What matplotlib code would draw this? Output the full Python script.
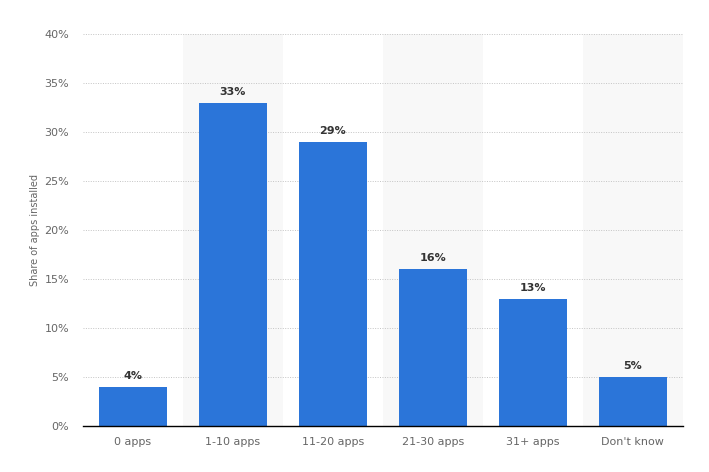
import numpy as np
import matplotlib.pyplot as plt

categories = ['0 apps', '1-10 apps', '11-20 apps', '21-30 apps', '31+ apps', "Don't know"]
values = [4, 33, 29, 16, 13, 5]
yticks = [0, 5, 10, 15, 20, 25, 30, 35, 40]

fig = plt.figure(figsize=(7.09, 4.72), dpi=100)
ax = fig.add_axes([0.117, 0.0975, 0.846, 0.8305])

x = np.arange(len(categories))
# alternating background bands
for i in x:
    if i % 2 == 1:
        ax.axvspan(i - 0.5, i + 0.5, color='#f8f8f8', zorder=0, lw=0)

ax.bar(x, values, width=0.68, color='#2b75d9', zorder=3)
for xi, v in zip(x, values):
    ax.text(xi, v + 0.6, f'{v}%', ha='center', va='bottom', fontsize=8,
            fontweight='bold', color='#333333', zorder=4)

ax.set_xlim(-0.5, len(categories) - 0.5)
ax.set_ylim(0, 40)
ax.set_yticks(yticks)
ax.set_yticklabels([f'{t}%' for t in yticks])
ax.set_xticks(x)
ax.set_xticklabels(categories)
ax.yaxis.grid(True, linestyle=(0, (1, 1.5)), color='#c4c4c4', lw=0.7, zorder=1)
ax.tick_params(axis='both', length=0, labelsize=8, colors='#666666')
ax.tick_params(axis='x', pad=8)
ax.tick_params(axis='y', pad=10)
for s in ['top', 'right', 'left']:
    ax.spines[s].set_visible(False)
ax.spines['bottom'].set_color('#000000')
ax.spines['bottom'].set_linewidth(1)
ax.spines['bottom'].set_zorder(5)
ax.set_ylabel('Share of apps installed', fontsize=7, color='#666666', labelpad=3)

plt.savefig('out.png')
